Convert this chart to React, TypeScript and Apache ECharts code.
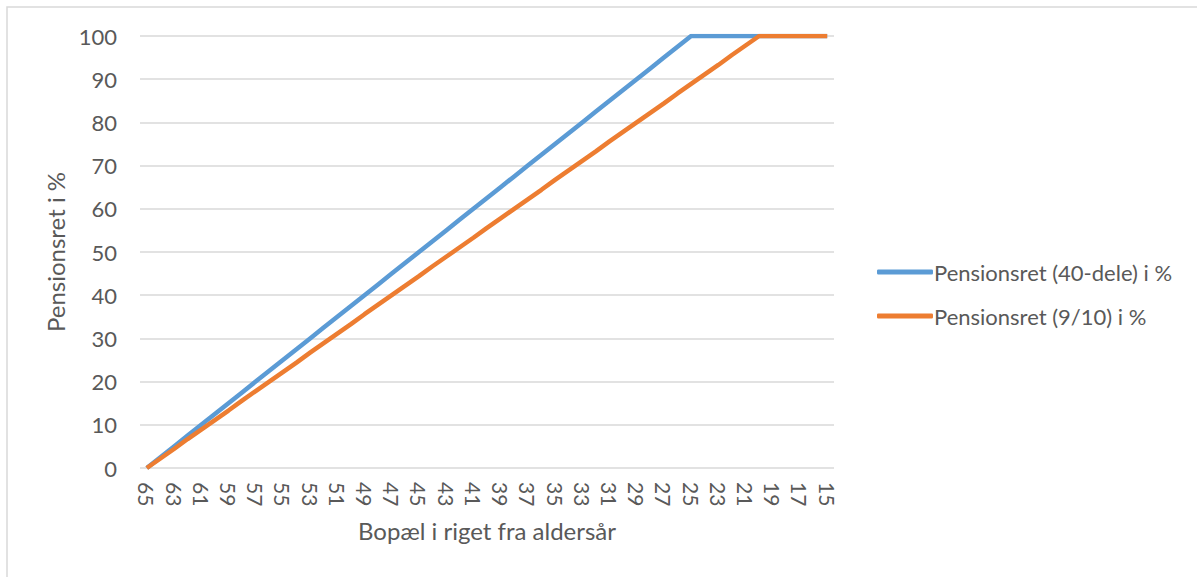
import React, { useEffect, useRef } from "react";
import * as echarts from "echarts";

const categories: string[] = [
  "65", "64", "63", "62", "61", "60", "59", "58", "57", "56", "55", "54", "53", "52", "51",
  "50", "49", "48", "47", "46", "45", "44", "43", "42", "41", "40", "39", "38", "37", "36",
  "35", "34", "33", "32", "31", "30", "29", "28", "27", "26", "25", "24", "23", "22", "21",
  "20", "19", "18", "17", "16", "15",
];

const fortyDele: number[] = [
  0, 2.5, 5, 7.5, 10, 12.5, 15, 17.5, 20, 22.5, 25, 27.5, 30, 32.5, 35, 37.5, 40, 42.5, 45, 47.5,
  50, 52.5, 55, 57.5, 60, 62.5, 65, 67.5, 70, 72.5, 75, 77.5, 80, 82.5, 85, 87.5, 90, 92.5, 95, 97.5,
  100, 100, 100, 100, 100, 100, 100, 100, 100, 100, 100,
];

const nineTenths: number[] = [
  0, 2.2, 4.4, 6.7, 8.9, 11.1, 13.3, 15.6, 17.8, 20, 22.2, 24.4, 26.7, 28.9, 31.1, 33.3, 35.6, 37.8,
  40, 42.2, 44.4, 46.7, 48.9, 51.1, 53.3, 55.6, 57.8, 60, 62.2, 64.4, 66.7, 68.9, 71.1, 73.3, 75.6,
  77.8, 80, 82.2, 84.4, 86.7, 88.9, 91.1, 93.3, 95.6, 97.8, 100, 100, 100, 100, 100, 100,
];

const seriesNames: string[] = ["Pensionsret (40-dele) i %", "Pensionsret (9/10) i %"];

const FONT = "Lato, 'Open Sans', sans-serif";
const TEXT = "#595959";

export default function App() {
  const ref = useRef<HTMLDivElement>(null);
  useEffect(() => {
    if (!ref.current) return;
    const chart = echarts.init(ref.current, null, { renderer: "svg" });
    chart.setOption({
      animation: false,
      backgroundColor: "#ffffff",
      textStyle: { fontFamily: FONT, color: TEXT },
      graphic: [
        {
          type: "rect",
          shape: { x: 7, y: 7, width: 1210, height: 600 },
          style: { fill: "none", stroke: "#d9d9d9", lineWidth: 1.5 },
          silent: true,
        },
      ],
      grid: { left: 140, right: 363, top: 36, bottom: 109, containLabel: false },
      legend: {
        orient: "vertical",
        left: 872,
        top: 256,
        itemWidth: 56,
        itemHeight: 5,
        itemGap: 22,
        icon: "roundRect",
        textStyle: { fontFamily: FONT, fontSize: 22, color: TEXT, padding: [0, 0, 0, -4] },
        data: seriesNames,
      },
      xAxis: {
        type: "category",
        data: categories,
        boundaryGap: true,
        name: "Bopæl i riget fra aldersår",
        nameLocation: "middle",
        nameGap: 50,
        nameTextStyle: { fontFamily: FONT, fontSize: 24, color: TEXT },
        axisLine: { show: false },
        axisTick: { show: false },
        axisLabel: {
          interval: 1,
          rotate: -90,
          margin: 14,
          fontFamily: FONT,
          fontSize: 21,
          color: TEXT,
        },
        splitLine: { show: false },
      },
      yAxis: {
        type: "value",
        min: 0,
        max: 100,
        interval: 10,
        name: "Pensionsret i %",
        nameLocation: "middle",
        nameGap: 71,
        nameRotate: 90,
        nameTextStyle: { fontFamily: FONT, fontSize: 24, color: TEXT },
        axisLine: { show: false },
        axisTick: { show: false },
        axisLabel: { margin: 23, fontFamily: FONT, fontSize: 22, color: TEXT },
        splitLine: { lineStyle: { color: "#d9d9d9", width: 1.5 } },
      },
      series: [
        {
          name: seriesNames[0],
          type: "line",
          data: fortyDele,
          showSymbol: false,
          symbol: "none",
          lineStyle: { color: "#5B9BD5", width: 4.5 },
          itemStyle: { color: "#5B9BD5" },
        },
        {
          name: seriesNames[1],
          type: "line",
          data: nineTenths,
          showSymbol: false,
          symbol: "none",
          lineStyle: { color: "#ED7D31", width: 4.5 },
          itemStyle: { color: "#ED7D31" },
        },
      ],
    });
    return () => chart.dispose();
  }, []);
  return (
    <div
      ref={ref}
      style={{ position: "absolute", left: 0, top: 0, width: 1197, height: 577 }}
    />
  );
}
